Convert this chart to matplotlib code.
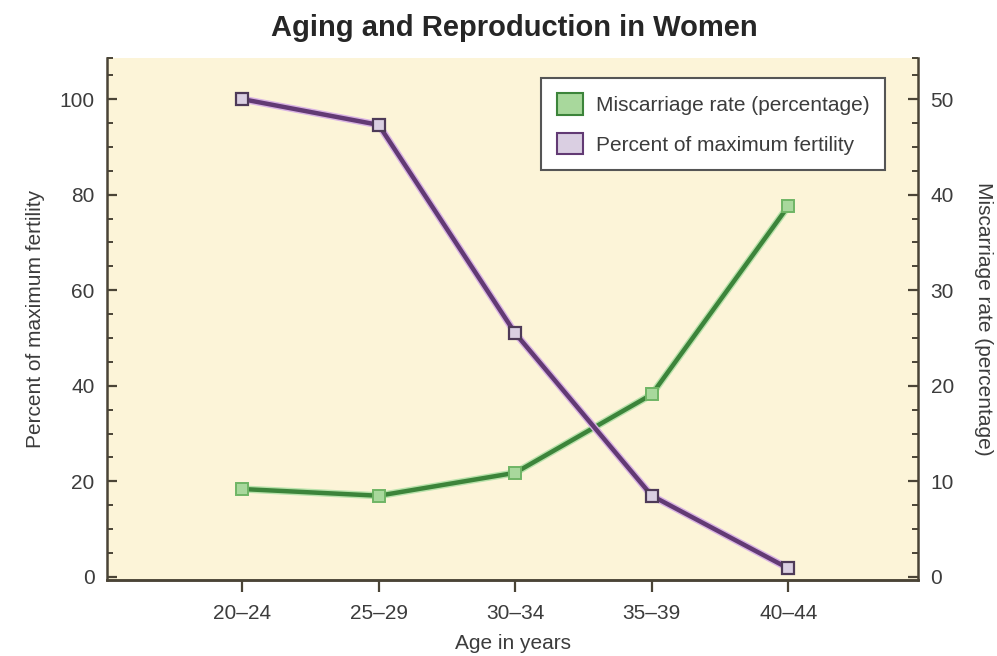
import matplotlib
matplotlib.use("Agg")
import matplotlib.pyplot as plt
import matplotlib.patheffects as pe
from matplotlib.patches import Patch
import numpy as np

age_groups = ["20–24", "25–29", "30–34", "35–39", "40–44"]
fertility_pct = [100, 94.6, 51, 17, 1.8]
miscarriage_pct = [9.2, 8.5, 10.9, 19.1, 38.8]

plt.rcParams["font.family"] = ["Liberation Sans", "DejaVu Sans"]

AXIS_COL = "#4a4436"
TEXT_COL = "#3c3c3c"
BG = "#fcf4d8"
PURPLE = "#623a74"
PURPLE_FILL = "#dacfe2"
GREEN = "#3c843a"
GREEN_FILL = "#a8d89c"
GREEN_EDGE = "#6fb565"


def main():
    fig = plt.figure(figsize=(9.97, 6.56), dpi=100)
    fig.patch.set_facecolor("white")
    ax1 = fig.add_axes([0.1073, 0.1159, 0.8135, 0.7957])
    ax2 = ax1.twinx()

    # left axis on top so the purple line overlays the green one
    ax1.set_zorder(ax2.get_zorder() + 1)
    ax1.patch.set_visible(False)
    ax2.patch.set_visible(True)
    ax2.patch.set_facecolor(BG)

    x = np.arange(len(age_groups))

    ax2.plot(x, miscarriage_pct, color=GREEN, lw=3.2, solid_joinstyle="round",
             path_effects=[pe.Stroke(linewidth=5.2, foreground="#b9e2ab"), pe.Normal()])
    ax2.plot(x, miscarriage_pct, ls="none", marker="s", ms=8.5,
             mfc=GREEN_FILL, mec=GREEN_EDGE, mew=1.4)
    ax1.plot(x, fertility_pct, color=PURPLE, lw=3.2, solid_joinstyle="round",
             path_effects=[pe.Stroke(linewidth=5.2, foreground="#d9b3e3"), pe.Normal()])
    ax1.plot(x, fertility_pct, ls="none", marker="s", ms=8.5,
             mfc=PURPLE_FILL, mec="#4e3a58", mew=1.6)

    ax1.set_xlim(-0.99, 4.95)
    ax1.set_ylim(-0.63, 108.6)
    ax2.set_ylim(-0.315, 54.3)

    ax1.set_xticks(x)
    ax1.set_xticklabels(age_groups)
    ax1.set_yticks(np.arange(0, 101, 20))
    ax1.set_yticks(list(np.arange(0, 106, 5)) + [108.6], minor=True)
    ax2.set_yticks(np.arange(0, 51, 10))
    ax2.set_yticks(list(np.arange(0, 53, 2.5)) + [54.3], minor=True)

    for ax in (ax1, ax2):
        ax.spines["top"].set_visible(False)
        for s in ("left", "right", "bottom"):
            ax.spines[s].set_color(AXIS_COL)
            ax.spines[s].set_linewidth(1.8)
        ax.tick_params(axis="y", which="major", direction="in", length=7.5, width=1.6,
                       color=AXIS_COL, labelsize=15, labelcolor=TEXT_COL, pad=9)
        ax.tick_params(axis="y", which="minor", direction="in", length=4.5, width=1.4,
                       color=AXIS_COL)
    ax1.spines["right"].set_visible(False)
    ax2.spines["left"].set_visible(False)
    ax1.tick_params(axis="x", which="major", direction="out", length=8.5, width=1.6,
                    color=AXIS_COL, labelsize=15, labelcolor=TEXT_COL, pad=9)

    ax1.set_xlabel("Age in years", fontsize=15, color=TEXT_COL, labelpad=8)
    ax1.set_ylabel("Percent of maximum fertility", fontsize=15, color=TEXT_COL, labelpad=10)
    ax2.set_ylabel("Miscarriage rate (percentage)", fontsize=15, color=TEXT_COL,
                   rotation=-90, labelpad=28)

    fig.suptitle("Aging and Reproduction in Women", fontsize=21, fontweight="bold",
                 color="#262626", x=0.516, y=0.978)

    handles = [Patch(facecolor=GREEN_FILL, edgecolor=GREEN, lw=1.5),
               Patch(facecolor=PURPLE_FILL, edgecolor=PURPLE, lw=1.5)]
    leg = ax1.legend(handles, ["Miscarriage rate (percentage)", "Percent of maximum fertility"],
                     loc="upper right", bbox_to_anchor=(0.959, 0.962), borderaxespad=0,
                     fancybox=False, framealpha=1, edgecolor="#555555", fontsize=15,
                     handlelength=1.25, handleheight=1.2, labelspacing=0.85,
                     handletextpad=0.6, borderpad=0.75)
    leg.get_frame().set_linewidth(1.5)
    for t in leg.get_texts():
        t.set_color(TEXT_COL)

    fig.savefig("out.png", dpi=100, facecolor=fig.get_facecolor())
    plt.close(fig)


if __name__ == "__main__":
    main()
